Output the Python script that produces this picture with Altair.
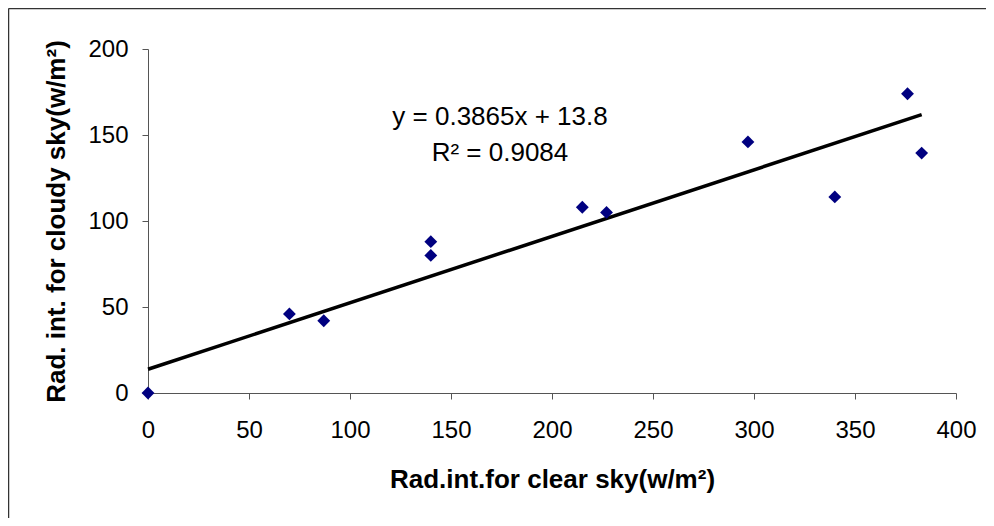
import altair as alt
import pandas as pd

# data
x_clear = [0, 70, 87, 140, 140, 215, 227, 297, 340, 376, 383]
y_cloudy = [0, 46, 42, 88, 80, 108, 105, 146, 114, 174, 139.5]
slope = 0.3865
intercept = 13.8
eq_lines = ["y = 0.3865x + 13.8", "R\u00b2 = 0.9084"]
x_ticks = [0, 50, 100, 150, 200, 250, 300, 350, 400]
y_ticks = [0, 50, 100, 150, 200]

FONT = "Liberation Sans"
W, H = 808, 344

pts = pd.DataFrame({"x": x_clear, "y": y_cloudy})
trend_x = [min(x_clear), max(x_clear)]
trend = pd.DataFrame({"x": trend_x, "y": [slope * v + intercept for v in trend_x]})

xs = alt.Scale(domain=[0, 400], nice=False, zero=False)
ys = alt.Scale(domain=[0, 200], nice=False, zero=False)

xaxis = alt.Axis(values=x_ticks, title="Rad.int.for clear sky(w/m\u00b2)", grid=False,
                 domainColor="#555555", tickColor="#555555", tickSize=6,
                 labelFont=FONT, labelFontSize=24, labelColor="black", labelPadding=19,
                 titleFont=FONT, titleFontSize=26, titleFontWeight="bold", titleColor="black",
                 titlePadding=24, labelFlush=False)
yaxis = alt.Axis(values=y_ticks, title="Rad. int. for cloudy sky(w/m\u00b2)", grid=False,
                 domainColor="#555555", tickColor="#555555", tickSize=6,
                 labelFont=FONT, labelFontSize=24, labelColor="black", labelPadding=14,
                 titleFont=FONT, titleFontSize=26, titleFontWeight="bold", titleColor="black",
                 titlePadding=18, labelFlush=False)

line = alt.Chart(trend).mark_line(color="black", strokeWidth=3.5).encode(
    x=alt.X("x:Q", scale=xs, axis=xaxis),
    y=alt.Y("y:Q", scale=ys, axis=yaxis),
)
points = alt.Chart(pts).mark_point(shape="diamond", filled=True, size=165,
                                   color="#000080", opacity=1).encode(
    x=alt.X("x:Q", scale=xs),
    y=alt.Y("y:Q", scale=ys),
)

one = pd.DataFrame({"t": [eq_lines[0]]})
two = pd.DataFrame({"t": [eq_lines[1]]})
eq1 = alt.Chart(one).mark_text(font=FONT, fontSize=26, color="black",
                               align="center", baseline="alphabetic").encode(
    text="t:N", x=alt.value(352), y=alt.value(76))
eq2 = alt.Chart(two).mark_text(font=FONT, fontSize=26, color="black",
                               align="center", baseline="alphabetic").encode(
    text="t:N", x=alt.value(352), y=alt.value(112))

frame_df = pd.DataFrame({"k": [0]})
left_border = alt.Chart(frame_df).mark_rule(color="#333333", strokeWidth=1.5).encode(
    x=alt.value(-139.5), y=alt.value(-40.5), y2=alt.value(480))
top_border = alt.Chart(frame_df).mark_rule(color="#333333", strokeWidth=1.5).encode(
    x=alt.value(-139.5), x2=alt.value(850), y=alt.value(-40.5))

chart = alt.layer(left_border, top_border, line, points, eq1, eq2).properties(
    width=W, height=H,
    autosize=alt.AutoSizeParams(type="none"),
    padding={"left": 140, "top": 41, "right": 30, "bottom": 125},
    background="white",
).configure_view(stroke=None)

chart.save("out.html", embed_options={"renderer": "svg", "actions": False})
